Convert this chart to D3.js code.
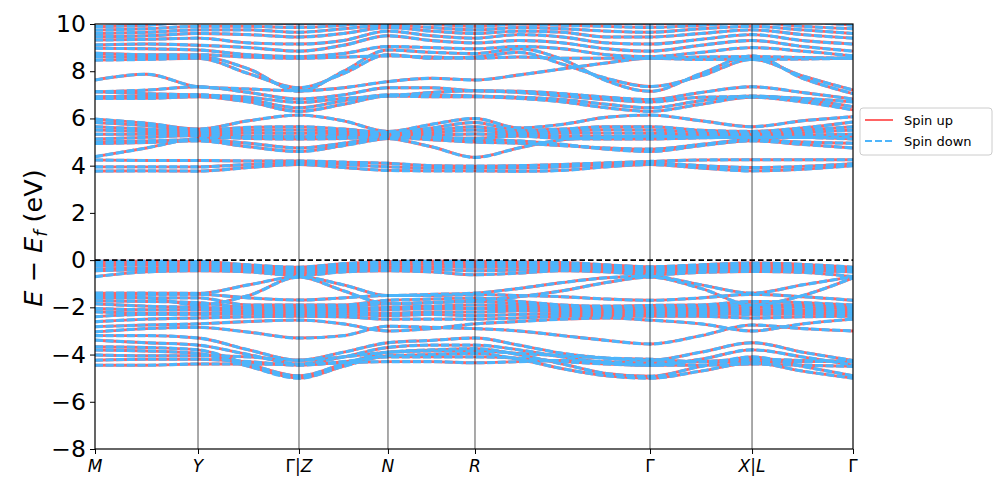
<!DOCTYPE html>
<html><head><meta charset="utf-8">
<script src="https://cdn.jsdelivr.net/npm/d3@7"></script>
<style>body{margin:0;background:#fff}svg{display:block}text{font-family:"DejaVu Sans",sans-serif}</style>
</head><body><svg id="c" width="997" height="498"></svg>
<script>
// k-path positions (fraction of path length) of high-symmetry points and labels
const tickK = [0, 0.1359, 0.2691, 0.3865, 0.5013, 0.7322, 0.8668, 1];
const tickLabels = [["M"],["Y"],["Γ|","Z"],["N"],["R"],["Γ"],["X","|L"],["Γ"]];
// sampled k positions for band energies
const kNodes = [0,0.068,0.1359,0.2025,0.2691,0.3278,0.3865,0.4439,0.5013,0.559,0.6168,0.6745,0.7322,0.7995,0.8668,0.9334,1];
const yTicks = [-8,-6,-4,-2,0,2,4,6,8,10];

// valence bands (eV)
const valenceTop = [
 [-0.05,-0.05,-0.06,-0.2,-0.3,-0.15,-0.06,-0.05,-0.05,-0.08,-0.1,-0.2,-0.28,-0.2,-0.12,-0.18,-0.3],
 [-0.15,-0.12,-0.12,-0.25,-0.35,-0.22,-0.1,-0.1,-0.12,-0.15,-0.18,-0.25,-0.33,-0.25,-0.2,-0.25,-0.35],
 [-0.25,-0.2,-0.2,-0.3,-0.4,-0.28,-0.18,-0.18,-0.2,-0.22,-0.25,-0.3,-0.38,-0.32,-0.28,-0.32,-0.4],
 [-0.38,-0.32,-0.3,-0.35,-0.45,-0.35,-0.28,-0.28,-0.3,-0.3,-0.32,-0.36,-0.45,-0.38,-0.35,-0.38,-0.45],
 [-0.45,-0.4,-0.38,-0.42,-0.55,-0.42,-0.35,-0.38,-0.45,-0.42,-0.38,-0.42,-0.55,-0.45,-0.42,-0.45,-0.5],
 [-0.7,-0.5,-0.45,-0.5,-0.65,-0.5,-0.45,-0.5,-0.62,-0.55,-0.45,-0.5,-0.62,-0.52,-0.48,-0.52,-0.7]
];
const valenceCross = [
 [-1.4,-1.4,-1.41,-1.05,-0.7,-1.05,-1.5,-1.45,-1.4,-1.2,-0.95,-0.75,-0.68,-1.05,-1.4,-1.05,-0.7],
 [-1.55,-1.6,-1.9,-1.5,-0.72,-1.3,-1.85,-1.8,-1.7,-1.55,-1.3,-0.95,-0.72,-1.2,-1.9,-1.5,-0.75],
 [-1.48,-1.45,-1.45,-1.6,-1.69,-1.6,-1.5,-1.5,-1.45,-1.5,-1.55,-1.65,-1.7,-1.6,-1.45,-1.55,-1.7]
];
const valenceMid = [
 [-1.6,-1.6,-1.6,-1.9,-1.9,-1.9,-1.7,-1.65,-1.6,-1.75,-1.9,-1.95,-1.92,-1.9,-1.75,-1.8,-1.9],
 [-1.72,-1.75,-1.8,-2.0,-2.0,-1.95,-1.85,-1.8,-1.75,-1.85,-1.95,-2.0,-2.0,-1.95,-1.9,-1.9,-2.0],
 [-1.85,-1.95,-2.0,-2.05,-2.08,-2.05,-2.0,-1.95,-1.9,-1.95,-2.02,-2.06,-2.08,-2.05,-2.0,-2.0,-2.08],
 [-2.05,-2.1,-2.1,-2.15,-2.15,-2.12,-2.1,-2.05,-2.05,-2.05,-2.1,-2.12,-2.15,-2.12,-2.1,-2.12,-2.15],
 [-2.19,-2.25,-2.25,-2.22,-2.22,-2.2,-2.25,-2.2,-2.2,-2.15,-2.18,-2.2,-2.22,-2.2,-2.2,-2.2,-2.22],
 [-2.4,-2.3,-2.3,-2.28,-2.3,-2.3,-2.35,-2.3,-2.35,-2.3,-2.28,-2.28,-2.3,-2.28,-2.3,-2.28,-2.3],
 [-2.61,-2.5,-2.45,-2.4,-2.38,-2.4,-2.5,-2.5,-2.5,-2.45,-2.38,-2.36,-2.38,-2.38,-2.45,-2.4,-2.38],
 [-2.82,-2.75,-2.7,-2.6,-2.54,-2.7,-3.0,-2.9,-2.7,-2.6,-2.5,-2.45,-2.54,-2.7,-3.0,-2.7,-2.5],
 [-3.04,-2.9,-2.85,-3.05,-3.3,-3.2,-2.8,-2.85,-2.9,-3.0,-3.2,-3.4,-3.55,-3.2,-2.75,-2.9,-3.0]
];
const valenceLow = [
 [-3.2,-3.2,-3.3,-3.8,-4.24,-3.9,-3.5,-3.4,-3.3,-3.6,-3.95,-4.15,-4.24,-3.9,-3.5,-3.9,-4.25],
 [-3.39,-3.5,-3.6,-4.0,-4.4,-4.1,-3.7,-3.6,-3.6,-3.8,-4.1,-4.35,-4.45,-4.2,-3.8,-4.1,-4.45],
 [-3.67,-3.7,-3.8,-4.4,-4.9,-4.4,-3.9,-3.8,-3.75,-4.0,-4.4,-4.8,-4.92,-4.5,-4.1,-4.5,-4.9],
 [-3.81,-3.85,-3.95,-4.5,-5.0,-4.5,-4.05,-4.0,-3.95,-4.2,-4.6,-4.9,-5.0,-4.7,-4.35,-4.7,-5.0],
 [-4.02,-4.05,-4.05,-4.1,-4.24,-4.1,-3.9,-3.85,-3.85,-3.95,-4.05,-4.15,-4.2,-4.3,-4.3,-4.3,-4.25],
 [-4.24,-4.2,-4.2,-4.3,-4.45,-4.3,-4.1,-4.1,-4.1,-4.15,-4.3,-4.4,-4.45,-4.45,-4.4,-4.45,-4.5],
 [-4.45,-4.45,-4.4,-4.4,-4.42,-4.35,-4.3,-4.3,-4.35,-4.3,-4.25,-4.3,-4.35,-4.3,-4.2,-4.25,-4.3]
];
// conduction bands (eV)
const conductionLow = [
 [3.77,3.78,3.77,3.92,4.05,3.92,3.8,3.78,3.78,3.76,3.8,3.95,4.05,3.9,3.78,3.85,4.0],
 [3.95,3.95,3.95,4.05,4.12,4.05,3.95,3.9,3.9,3.9,3.95,4.05,4.12,4.0,3.92,3.97,4.08],
 [4.24,4.22,4.22,4.2,4.2,4.15,4.1,4.0,3.98,4.0,4.05,4.12,4.18,4.24,4.25,4.25,4.25],
 [4.38,4.75,5.15,5.2,5.22,5.2,5.15,4.8,4.35,4.75,5.1,5.2,5.25,5.2,5.2,5.2,5.22]
];
const conductionMid = [
 [5.0,5.05,5.1,4.95,4.75,4.95,5.2,5.1,5.0,4.95,4.85,4.75,4.7,4.9,5.1,5.0,4.95],
 [4.94,4.98,5.05,4.8,4.6,4.85,5.15,5.2,5.1,5.05,4.9,4.7,4.6,4.85,5.05,4.9,4.75],
 [5.97,5.8,5.55,5.9,6.14,5.9,5.45,5.75,6.0,5.6,5.75,6.05,6.14,5.9,5.65,5.9,6.07],
 [5.83,5.7,5.5,5.62,5.65,5.55,5.4,5.6,5.83,5.5,5.55,5.65,5.65,5.5,5.45,5.6,5.85],
 [5.65,5.55,5.45,5.5,5.51,5.45,5.38,5.5,5.65,5.42,5.47,5.52,5.51,5.42,5.38,5.5,5.65],
 [5.51,5.45,5.4,5.38,5.37,5.36,5.33,5.4,5.51,5.36,5.38,5.38,5.37,5.34,5.32,5.4,5.51],
 [5.33,5.33,5.35,5.25,5.23,5.25,5.3,5.3,5.34,5.3,5.26,5.24,5.23,5.26,5.28,5.3,5.33],
 [5.13,5.2,5.28,5.15,5.13,5.15,5.25,5.2,5.16,5.25,5.15,5.13,5.13,5.18,5.22,5.2,5.13]
];
const conductionUpper = [
 [6.85,6.85,6.92,6.7,6.3,6.6,6.95,6.92,6.92,6.85,6.7,6.45,6.3,6.6,6.9,6.7,6.36],
 [6.92,6.95,7.0,6.8,6.45,6.75,7.0,7.0,6.95,6.9,6.8,6.6,6.45,6.75,6.95,6.8,6.5],
 [7.13,7.05,6.99,6.9,6.68,6.85,6.95,7.1,7.17,7.1,6.95,6.8,6.7,6.9,6.92,6.85,6.7],
 [7.13,7.2,7.34,7.1,6.82,7.0,7.3,7.3,7.17,7.15,7.05,6.9,6.8,7.1,7.34,7.1,6.82],
 [7.63,7.87,7.34,7.25,7.17,7.3,7.56,7.7,7.63,7.84,8.1,8.35,8.55,8.5,8.5,8.52,8.55],
 [8.47,8.5,8.55,7.9,7.3,7.9,8.7,8.55,8.6,8.8,8.3,7.7,7.35,7.8,8.5,7.8,7.2],
 [8.62,8.6,8.62,8.1,7.15,8.0,8.9,8.8,8.75,8.95,8.5,7.6,7.15,7.9,8.65,7.7,7.05]
];
const conductionTop = [
 [8.76,8.7,8.7,8.6,8.55,8.6,8.65,8.6,8.55,8.6,8.55,8.55,8.55,8.6,8.62,8.58,8.55],
 [8.97,8.95,8.9,8.7,8.62,8.75,9.05,9.0,8.95,9.05,8.95,8.7,8.62,8.8,9.0,8.85,8.65],
 [9.11,9.15,9.1,9.0,8.85,9.1,9.5,9.3,9.2,9.3,9.2,8.95,8.85,9.1,9.3,9.05,8.85],
 [9.32,9.35,9.4,9.2,9.15,9.3,9.7,9.5,9.4,9.55,9.45,9.2,9.15,9.35,9.55,9.3,9.15],
 [9.46,9.5,9.6,9.55,9.45,9.6,9.85,9.7,9.6,9.7,9.65,9.45,9.45,9.6,9.75,9.55,9.4],
 [9.6,9.65,9.75,9.75,9.65,9.8,9.95,9.85,9.75,9.85,9.8,9.7,9.65,9.8,9.9,9.75,9.6],
 [9.74,9.8,9.9,9.9,9.85,9.95,10.1,10.0,9.9,10.0,9.95,9.9,9.85,9.95,10.05,9.9,9.8],
 [9.89,9.95,10.1,10.1,10.0,10.1,10.3,10.2,10.1,10.2,10.1,10.05,10.0,10.1,10.2,10.1,9.95]
];
const bands = [...valenceTop, ...valenceCross, ...valenceMid, ...valenceLow,
               ...conductionLow, ...conductionMid, ...conductionUpper, ...conductionTop];

const svg = d3.select("#c");
const L = 95, R = 853, T = 24, B = 449;
const x = d3.scaleLinear().domain([0,1]).range([L,R]);
const y = d3.scaleLinear().domain([-8,10]).range([B,T]);
const upColor = "#ff6464", downColor = "#4db5fb";

svg.append("clipPath").attr("id","clip").append("rect")
  .attr("x",L).attr("y",T).attr("width",R-L).attr("height",B-T);

const line = d3.line().x((d,i)=>x(kNodes[i])).y(d=>y(d)).curve(d3.curveMonotoneX);
const g = svg.append("g").attr("clip-path","url(#clip)");
g.selectAll("path.up").data(bands).join("path").attr("class","up")
  .attr("d",line).attr("fill","none").attr("stroke",upColor).attr("stroke-width",2.9);
g.selectAll("path.dn").data(bands).join("path").attr("class","dn")
  .attr("d",line).attr("fill","none").attr("stroke",downColor).attr("stroke-width",3.1)
  .attr("stroke-dasharray","8,2.6");

// high-symmetry vertical lines
g.selectAll("line.v").data(tickK.slice(1,-1)).join("line").attr("class","v")
  .attr("x1",d=>x(d)).attr("x2",d=>x(d)).attr("y1",T).attr("y2",B)
  .attr("stroke","#000").attr("stroke-opacity",0.45).attr("stroke-width",1.5);
// Fermi level
g.append("line").attr("x1",L).attr("x2",R).attr("y1",y(0)).attr("y2",y(0))
  .attr("stroke","#000").attr("stroke-width",1.6).attr("stroke-dasharray","5.5,3");

// axes
const yAxis = d3.axisLeft(y).tickValues(yTicks).tickSize(5).tickPadding(4);
const ya = svg.append("g").attr("transform",`translate(${L},0)`).call(yAxis);
ya.selectAll("text").attr("font-size",23.5).attr("fill","#000").attr("font-family","DejaVu Sans");
ya.select(".domain").remove();
const xAxis = d3.axisBottom(x).tickValues(tickK).tickSize(5).tickFormat("");
const xa = svg.append("g").attr("transform",`translate(0,${B})`).call(xAxis);
xa.select(".domain").remove();
svg.selectAll(".tick line").attr("stroke","#000").attr("stroke-width",1);
svg.append("rect").attr("x",L).attr("y",T).attr("width",R-L).attr("height",B-T)
  .attr("fill","none").attr("stroke","#000").attr("stroke-width",1.2);

// x tick labels (math style: Greek upright, latin italic)
tickLabels.forEach((parts,i)=>{
  const t = svg.append("text").attr("x",x(tickK[i])).attr("y",472)
    .attr("text-anchor","middle").attr("font-size",17);
  parts.forEach(p=>{
    if (p.startsWith("Γ")) { t.append("tspan").text("Γ"); if (p.length>1) t.append("tspan").text(p.slice(1)); }
    else if (p.startsWith("|")) { t.append("tspan").text("|"); t.append("tspan").attr("font-style","italic").text(p.slice(1)); }
    else t.append("tspan").attr("font-style","italic").text(p);
  });
});

// y label
const yl = svg.append("text").attr("transform","translate(42,238) rotate(-90)")
  .attr("text-anchor","middle").attr("font-size",25.5);
yl.append("tspan").attr("font-style","italic").text("E");
yl.append("tspan").text(" − ");
yl.append("tspan").attr("font-style","italic").text("E");
yl.append("tspan").attr("font-style","italic").attr("font-size",18).attr("dy",5).text("f");
yl.append("tspan").attr("dy",-5).text(" (eV)");

// legend
const lg = svg.append("g").attr("transform","translate(860,108)");
lg.append("rect").attr("width",132).attr("height",47).attr("rx",3)
  .attr("fill","#fff").attr("stroke","#ccc").attr("stroke-width",1);
lg.append("line").attr("x1",5).attr("x2",33).attr("y1",12).attr("y2",12)
  .attr("stroke",upColor).attr("stroke-width",2);
lg.append("line").attr("x1",5).attr("x2",33).attr("y1",33).attr("y2",33)
  .attr("stroke",downColor).attr("stroke-width",2).attr("stroke-dasharray","7,3");
lg.append("text").attr("x",44).attr("y",17).attr("font-size",13).text("Spin up");
lg.append("text").attr("x",44).attr("y",38).attr("font-size",13).text("Spin down");
</script></body></html>
